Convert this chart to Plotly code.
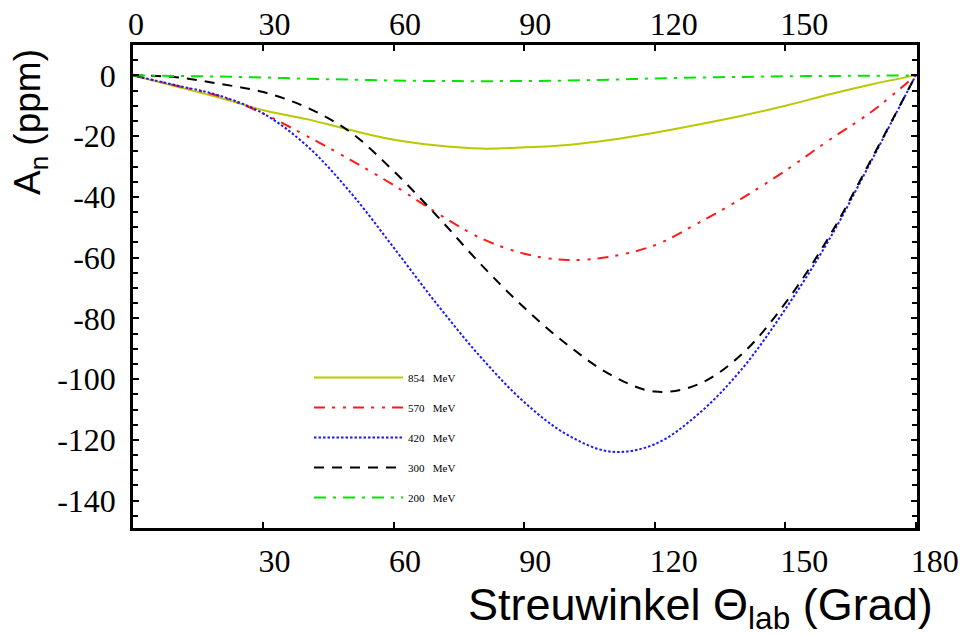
import plotly.graph_objects as go

# Scattering angle (degrees)
angle = [0, 10, 20, 30, 40, 50, 60, 70, 80, 90, 100, 110, 120, 130, 140, 150, 160, 170, 180]

# Normal asymmetry A_n (ppm) for different beam energies
a_854 = [0, -3.7, -7.4, -11.5, -14.4, -18.0, -21.2, -23.1, -24.1, -23.7, -22.9, -21.2, -18.9, -16.2, -13.3, -10.0, -6.3, -2.9, 0]
a_570 = [0, -3.4, -6.9, -12.6, -20.0, -27.8, -36.2, -45.4, -53.6, -58.7, -60.8, -59.6, -55.9, -48.6, -40.5, -31.4, -21.4, -11.8, 0]
a_420 = [0, -3.3, -6.7, -12.6, -23.2, -38.5, -56.8, -75.5, -92.8, -107.6, -118.4, -123.9, -121.4, -111.5, -96.7, -77.0, -54.3, -27.6, 0]
a_300 = [0, -0.6, -2.8, -5.5, -10.6, -18.7, -31.6, -46.4, -62.2, -76.5, -88.8, -98.7, -104.1, -101.7, -91.8, -75.0, -53.3, -27.1, 0]
a_200 = [0, -0.2, -0.4, -0.7, -1.1, -1.4, -1.7, -1.85, -1.9, -1.85, -1.7, -1.4, -1.0, -0.7, -0.5, -0.3, -0.2, -0.1, 0]

series_names = ["854\u00a0\u00a0\u00a0MeV", "570\u00a0\u00a0\u00a0MeV", "420\u00a0\u00a0\u00a0MeV",
                "300\u00a0\u00a0\u00a0MeV", "200\u00a0\u00a0\u00a0MeV"]
series_values = [a_854, a_570, a_420, a_300, a_200]
series_colors = ["#b9c900", "#ff1a1a", "#1a1aff", "#000000", "#00e600"]
series_dash = ["solid", "11px,7px,3px,8px,3px,7px", "2.5px,2px", "10px,8px", "12px,7px,3px,7px"]

x_bottom_ticks = [30, 60, 90, 120, 150, 180]
x_top_ticks = [0, 30, 60, 90, 120, 150]
y_ticks = [0, -20, -40, -60, -80, -100, -120, -140]
y_ticktext = ["0", "-20", "-40", "-60", "-80", "-100", "-120", "-140"]

W, H = 965, 635
L, R, T, B = 133, 48, 45, 107
PW, PH = W - L - R, H - T - B

fig = go.Figure()
for i, (name, vals, col, dash) in enumerate(zip(series_names, series_values, series_colors, series_dash)):
    fig.add_trace(go.Scatter(
        x=angle, y=vals, mode="lines", name=name,
        line=dict(color=col, width=2, dash=dash, shape="spline", smoothing=1.0),
        legendgroup=f"g{i}",
        xaxis="x2" if i == len(series_names) - 1 else "x",
        yaxis="y",
    ))

tick_font = dict(family="Liberation Serif", size=32, color="black")
XR = [0, 180.3]

fig.update_layout(
    width=W, height=H,
    margin=dict(l=L, r=R, t=T, b=B, autoexpand=False),
    paper_bgcolor="white", plot_bgcolor="white",
    showlegend=True,
    legend=dict(
        x=(309 - L) / PW, y=(528 - 363) / PH,
        xanchor="left", yanchor="top",
        font=dict(family="Liberation Serif", size=11, color="black"),
        bgcolor="rgba(0,0,0,0)", borderwidth=0,
        tracegroupgap=11, itemwidth=89,
        traceorder="grouped",
    ),
    xaxis=dict(
        range=XR, showgrid=False, zeroline=False, automargin=False,
        showline=True, linecolor="black", linewidth=2.5, mirror=False,
        tickmode="array", tickvals=x_bottom_ticks, ticktext=[str(v) for v in x_bottom_ticks],
        ticks="inside", ticklen=6, tickwidth=1.5, tickcolor="black",
        tickfont=tick_font, ticklabelposition="outside right", ticklabelshift=-7,
        ticklabelstandoff=3,
    ),
    xaxis2=dict(
        range=XR, matches="x", overlaying="x", side="top", anchor="y",
        showgrid=False, zeroline=False, automargin=False,
        showline=True, linecolor="black", linewidth=2.5,
        tickmode="array", tickvals=x_top_ticks, ticktext=[str(v) for v in x_top_ticks],
        ticks="inside", ticklen=6, tickwidth=1.5, tickcolor="black",
        tickfont=tick_font, ticklabelposition="outside right", ticklabelshift=-7,
        ticklabelstandoff=-6,
    ),
    yaxis=dict(
        range=[-149, 10], showgrid=False, zeroline=False, automargin=False,
        showline=True, linecolor="black", linewidth=2.5, mirror="ticks",
        tickmode="array", tickvals=y_ticks, ticktext=y_ticktext,
        ticks="inside", ticklen=6, tickwidth=1.5, tickcolor="black",
        tickfont=tick_font, ticklabelstandoff=8,
        minor=dict(tickmode="linear", tick0=0, dtick=5, ticks="inside", ticklen=5,
                   tickwidth=1.5, tickcolor="black"),
    ),
    annotations=[
        dict(text="A<sub>n</sub> (ppm)", xref="paper", yref="paper",
             x=-(L - 30) / PW, y=(528 - 122) / PH, xanchor="center", yanchor="middle",
             textangle=-90, showarrow=False,
             font=dict(family="Liberation Sans", size=37, color="black")),
        dict(text="Streuwinkel \u0398<sub>lab</sub> (Grad)", xref="paper", yref="paper",
             x=(935 - L) / PW, y=-(607 - 528) / PH, xanchor="right", yanchor="middle",
             showarrow=False,
             font=dict(family="Liberation Sans", size=45, color="black")),
    ],
)

fig.write_html("out.html", config={"displayModeBar": False},
               post_script="document.body.style.margin='0';")
